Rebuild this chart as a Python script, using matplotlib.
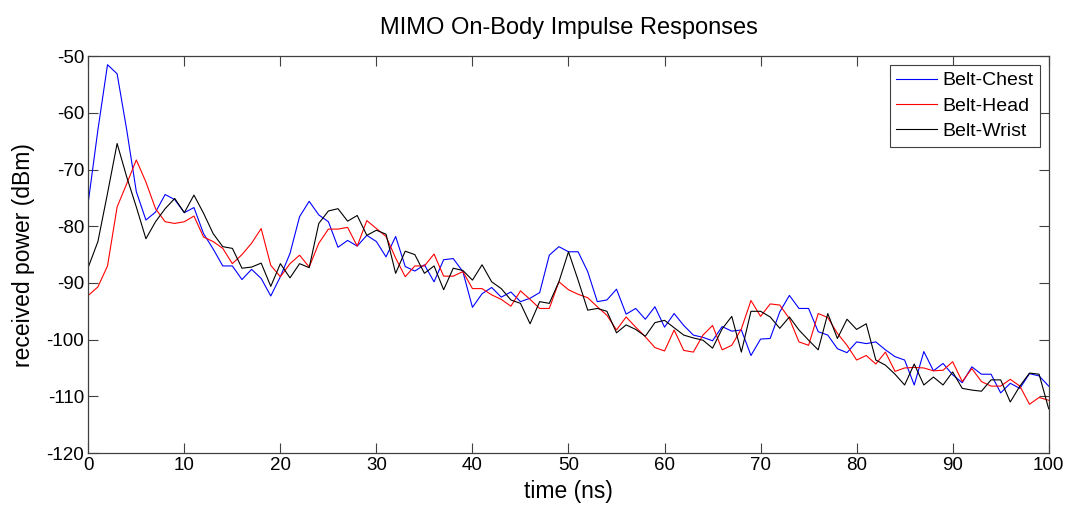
import matplotlib
matplotlib.use("Agg")
import matplotlib.pyplot as plt
import numpy as np

plt.rcParams['font.family'] = ['Liberation Sans', 'DejaVu Sans']
plt.rcParams['axes.unicode_minus'] = False

# time axis, 1 ns steps
time_ns = list(range(0, 101))

belt_chest = [
    -75.7, -63.0, -51.5, -53.1, -63.0, -73.9, -78.9, -77.5, -74.4, -75.3,
    -77.6, -76.7, -81.3, -84.0, -87.0, -87.0, -89.4, -87.6, -89.2, -92.3,
    -88.9, -84.8, -78.3, -75.6, -78.0, -79.2, -83.7, -82.5, -83.5, -81.6,
    -82.7, -85.4, -81.8, -87.1, -87.9, -86.8, -89.8, -85.9, -85.7, -88.0,
    -94.3, -91.9, -90.8, -92.5, -91.6, -93.3, -92.7, -91.7, -85.1, -83.6,
    -84.5, -84.5, -88.0, -93.3, -93.0, -91.1, -95.5, -94.5, -96.4, -94.2,
    -97.8, -95.4, -97.5, -99.2, -99.6, -100.2, -97.7, -98.5, -98.3, -102.8,
    -99.9, -99.8, -95.1, -92.2, -94.5, -94.5, -98.6, -99.2, -101.6, -102.3,
    -100.4, -100.7, -100.4, -101.8, -103.0, -103.6, -108.0, -102.1, -105.5, -104.2,
    -106.2, -107.6, -104.8, -106.1, -106.1, -109.4, -107.7, -108.6, -106.0, -106.4,
    -108.2,
]

belt_head = [
    -92.2, -90.7, -87.0, -76.6, -72.5, -68.3, -72.2, -76.9, -79.2, -79.5,
    -79.2, -78.2, -81.9, -82.7, -83.9, -86.6, -85.0, -83.0, -80.4, -86.9,
    -88.9, -86.6, -85.1, -87.2, -83.0, -80.5, -80.5, -80.2, -83.5, -79.0,
    -80.4, -81.8, -85.6, -88.9, -87.0, -87.0, -84.9, -88.8, -88.8, -88.0,
    -91.0, -91.0, -92.1, -92.9, -94.1, -91.4, -92.9, -94.5, -94.5, -89.8,
    -91.2, -92.0, -92.6, -94.2, -95.7, -98.3, -96.0, -97.8, -99.5, -101.4,
    -102.0, -98.3, -101.9, -102.2, -99.2, -97.5, -101.8, -101.0, -98.1, -93.1,
    -95.9, -93.7, -93.9, -96.3, -100.4, -101.0, -95.4, -96.1, -98.9, -101.0,
    -103.6, -102.8, -104.3, -102.2, -105.6, -105.0, -104.9, -105.0, -105.5, -105.4,
    -103.9, -107.4, -105.1, -107.4, -108.2, -108.2, -107.0, -108.2, -111.4, -110.2,
    -110.7,
]

belt_wrist = [
    -87.2, -82.7, -74.2, -65.4, -71.3, -76.6, -82.2, -79.2, -76.9, -75.1,
    -77.6, -74.5, -77.7, -81.3, -83.6, -83.9, -87.4, -87.2, -86.5, -90.6,
    -86.6, -89.1, -86.6, -87.3, -79.5, -77.3, -76.9, -79.1, -78.1, -81.6,
    -80.7, -81.4, -88.3, -84.4, -85.0, -88.3, -87.0, -91.2, -87.4, -87.8,
    -89.5, -86.8, -89.8, -91.0, -93.0, -93.6, -97.2, -93.3, -93.6, -89.8,
    -84.5, -89.5, -94.8, -94.5, -95.0, -98.8, -97.4, -98.2, -99.4, -97.0,
    -96.6, -97.9, -99.2, -99.7, -100.1, -101.5, -98.1, -95.9, -102.2, -95.0,
    -95.0, -96.0, -98.0, -96.0, -98.3, -100.1, -101.8, -95.4, -99.8, -96.4,
    -98.2, -97.2, -103.6, -104.5, -106.1, -108.0, -104.3, -108.0, -106.6, -108.0,
    -105.7, -108.6, -108.9, -109.1, -107.1, -107.1, -111.0, -108.2, -105.9, -106.1,
    -112.2,
]

series_names = ["Belt-Chest", "Belt-Head", "Belt-Wrist"]
x_ticks = list(range(0, 101, 10))
y_ticks = list(range(-120, -49, 10))

fig = plt.figure(figsize=(10.69, 5.11), dpi=100)
ax = fig.add_axes([0.0826, 0.1135, 0.8984, 0.7765])

ax.plot(time_ns, belt_chest, color="#0000ff", linewidth=0.8, label=series_names[0])
ax.plot(time_ns, belt_head, color="#ff0000", linewidth=0.8, label=series_names[1])
ax.plot(time_ns, belt_wrist, color="black", linewidth=0.8, label=series_names[2])

ax.set_xlim(0, 100)
ax.set_ylim(-120, -50)
ax.set_xticks(x_ticks)
ax.set_yticks(y_ticks)
ax.tick_params(direction="in", top=True, right=True, labelsize=13.5,
               length=7, width=0.8, color="#404040", pad=3)
for s in ax.spines.values():
    s.set_linewidth(0.9)
    s.set_color("#404040")

ax.set_title("MIMO On-Body Impulse Responses", fontsize=17, pad=16)
ax.set_xlabel("time (ns)", fontsize=16.5, labelpad=4)
ax.set_ylabel("received power (dBm)", fontsize=16.5, labelpad=8)

leg = ax.legend(loc="upper right", fontsize=14, fancybox=False, framealpha=1,
                edgecolor="#404040", borderaxespad=0.45, handlelength=2.1,
                handletextpad=0.25, labelspacing=0.4, borderpad=0.35)
leg.get_frame().set_linewidth(0.8)

fig.savefig("out.png", dpi=100)
